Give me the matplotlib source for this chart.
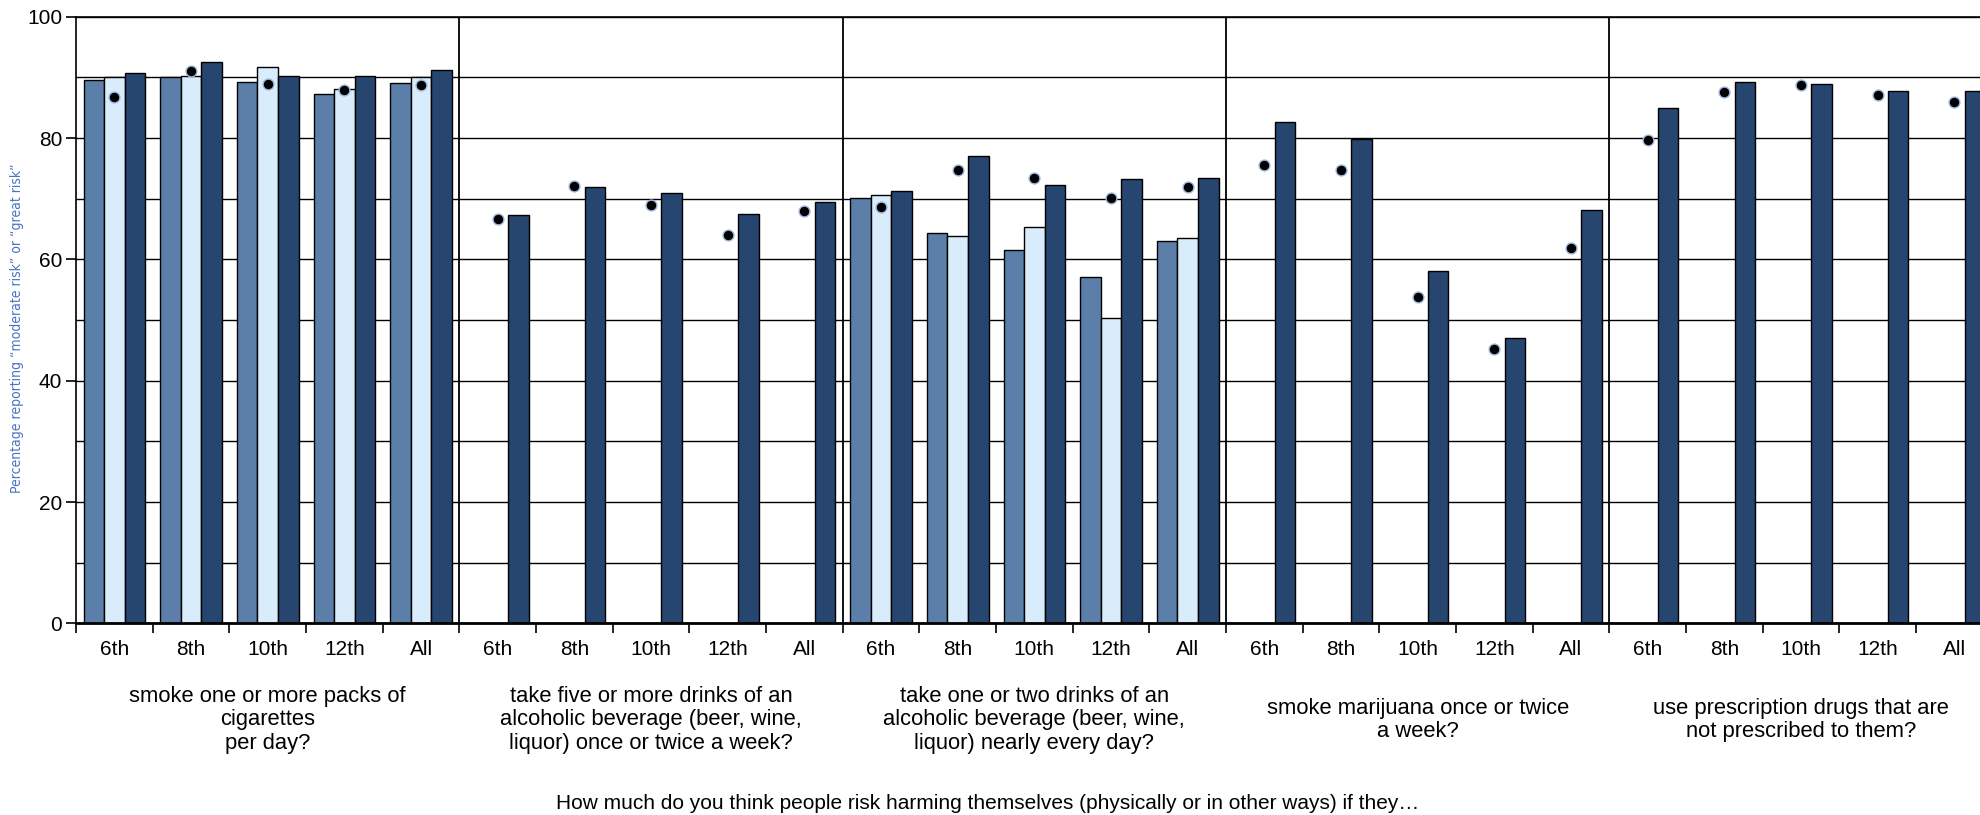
import numpy as np
import matplotlib
matplotlib.use("Agg")
import matplotlib.pyplot as plt
from matplotlib import font_manager

# ======= data =======
grades = ['6th', '8th', '10th', '12th', 'All']
questions = [
    "smoke one or more packs of\ncigarettes\nper day?",
    "take five or more drinks of an\nalcoholic beverage (beer, wine,\nliquor) once or twice a week?",
    "take one or two drinks of an\nalcoholic beverage (beer, wine,\nliquor) nearly every day?",
    "smoke marijuana once or twice\na week?",
    "use prescription drugs that are\nnot prescribed to them?",
]
nan = np.nan
# mid blue series (only asked for two questions)
series_a = [89.5, 90.1, 89.2, 87.2, 89.0,
            nan, nan, nan, nan, nan,
            70.1, 64.4, 61.6, 57.1, 63.0,
            nan, nan, nan, nan, nan,
            nan, nan, nan, nan, nan]
# light blue series
series_b = [90.1, 90.3, 91.7, 88.1, 90.1,
            nan, nan, nan, nan, nan,
            70.6, 63.9, 65.3, 50.3, 63.5,
            nan, nan, nan, nan, nan,
            nan, nan, nan, nan, nan]
# dark navy series
series_c = [90.7, 92.6, 90.3, 90.3, 91.2,
            67.3, 72.0, 70.9, 67.5, 69.5,
            71.2, 77.0, 72.3, 73.2, 73.5,
            82.6, 79.8, 58.1, 47.1, 68.2,
            85.0, 89.2, 88.9, 87.8, 87.8]
# benchmark dots
bench = [86.8, 91.1, 88.9, 87.9, 88.7,
         66.7, 72.1, 69.0, 64.0, 68.0,
         68.7, 74.8, 73.4, 70.2, 71.9,
         75.6, 74.8, 53.8, 45.2, 61.8,
         79.7, 87.6, 88.7, 87.1, 86.0]

ylabel = "Percentage reporting \u201cmoderate risk\u201d or \u201cgreat risk\u201d"
xtitle = "How much do you think people risk harming themselves (physically or in other ways) if they\u2026"

# ======= style =======
C_MID = '#5B7FA8'
C_LIGHT = '#D9ECFB'
C_DARK = '#26456F'
plt.rcParams['font.family'] = ['Liberation Sans', 'DejaVu Sans']

# narrow face for the y label if one is installed
installed = {f.name for f in font_manager.fontManager.ttflist}
if 'Liberation Sans Narrow' in installed:
    ylab_font = dict(family='Liberation Sans Narrow', fontsize=12)
else:
    ylab_font = dict(family='DejaVu Sans', fontstretch='condensed', fontsize=10)

fig = plt.figure(figsize=(19.8, 8.15), dpi=100)
ax = fig.add_axes([0.0384, 0.2350, 0.968, 0.7445])

n = len(series_c)
x = np.arange(n) + 0.5
w = 0.268

# horizontal grid every 10, behind bars
for g in range(0, 101, 10):
    ax.axhline(g, color='black', lw=1.0, zorder=0)

ax.bar(x - w, series_a, w, color=C_MID, edgecolor='black', linewidth=1.0, zorder=2)
ax.bar(x, series_b, w, color=C_LIGHT, edgecolor='black', linewidth=1.0, zorder=2)
ax.bar(x + w, series_c, w, color=C_DARK, edgecolor='black', linewidth=1.0, zorder=2)
ax.plot(x, bench, 'o', ms=7.8, color='black', mec='#9DB9DE', mew=1.0,
        zorder=4, clip_on=False)

# group separators
for k in range(1, len(questions)):
    ax.axvline(k * len(grades), color='black', lw=1.3, zorder=3)

ax.set_xlim(0, n)
ax.set_ylim(0, 100)

# y axis
ax.set_yticks(range(0, 101, 20))
ax.tick_params(axis='y', length=7, width=1.2, pad=3, labelsize=15)
ax.set_ylabel(ylabel, color='#4A74C0', **ylab_font)
ax.yaxis.set_label_coords(-0.027, 0.487)

# x axis: ticks at boundaries, labels centred
ax.set_xticks(range(0, n + 1))
ax.set_xticklabels([])
ax.tick_params(axis='x', which='major', length=7, width=1.2)
ax.set_xticks(x, minor=True)
ax.set_xticklabels(grades * len(questions), minor=True)
ax.tick_params(axis='x', which='minor', length=0, pad=12, labelsize=15)

for side in ['left', 'top', 'right']:
    ax.spines[side].set_linewidth(1.2)
ax.spines['bottom'].set_linewidth(2.0)

# question labels under each group
for k, q in enumerate(questions):
    ax.text(k * len(grades) + len(grades) / 2, -15.9, q, ha='center', va='center',
            fontsize=15.8, linespacing=1.15, clip_on=False)

fig.text(0.499, 0.0147, xtitle, ha='center', va='center', fontsize=15)

fig.savefig('out.png', dpi=100)
